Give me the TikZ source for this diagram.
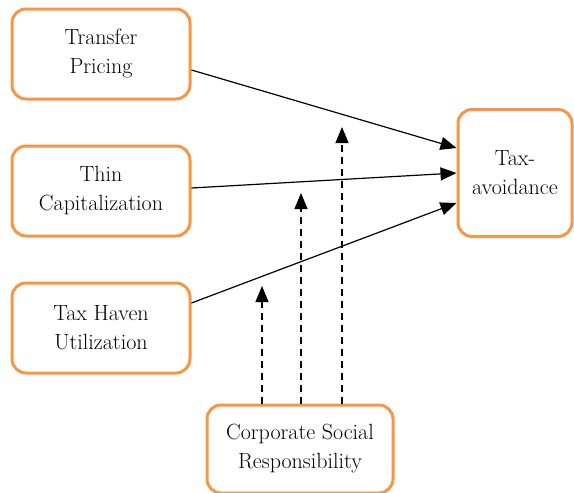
\documentclass[tikz,border=0pt]{standalone}
\usetikzlibrary{arrows.meta}
\definecolor{boxorange}{RGB}{247,150,70}

\begin{document}
\begin{tikzpicture}[x=1pt, y=-1pt, >={Triangle[length=16pt,width=13pt]}, node distance=137pt, line width=1.2pt,
    main node/.style={draw=boxorange, line width=3pt, rounded corners=14pt, fill=white, align=center, minimum width=178pt, minimum height=90pt, font=\fontsize{22}{29}\selectfont},
    dash arrow/.style={->, dash pattern=on 7pt off 5pt}]
                \useasboundingbox (0,0) rectangle (574,493);

                \node[main node] (tp) at (101,54) {Transfer\\Pricing};
                \node[main node] (tc) [below of = tp]{Thin\\Capitalization};
                \node[main node] (th) [below of = tc]{Tax Haven\\Utilization};

                \node[main node, minimum width=114pt, minimum height=127pt] (ta) at (515,173) {Tax-\\avoidance};
                \node[main node, minimum width=186pt, minimum height=88pt] (csr) at (300,449) {Corporate Social\\Responsibility};

                \coordinate (m1) at (262,286);
                \coordinate (m2) at (301,193);
                \coordinate (m3) at (342,127);

                \path[->]
                    ([yshift=-16pt]tp.east) edge ([yshift=25pt]ta.west)
                    ([yshift=3pt]tc.east) edge (ta.west)
                    ([yshift=25pt]th.east) edge ([yshift=-30pt]ta.west)
                ;
                \path[dash arrow]
                    ([xshift=-38pt]csr.north) edge (m1)
                    (csr.north -| m2) edge (m2)
                    (csr.north -| m3) edge (m3)
                ;
            \end{tikzpicture}
\end{document}
